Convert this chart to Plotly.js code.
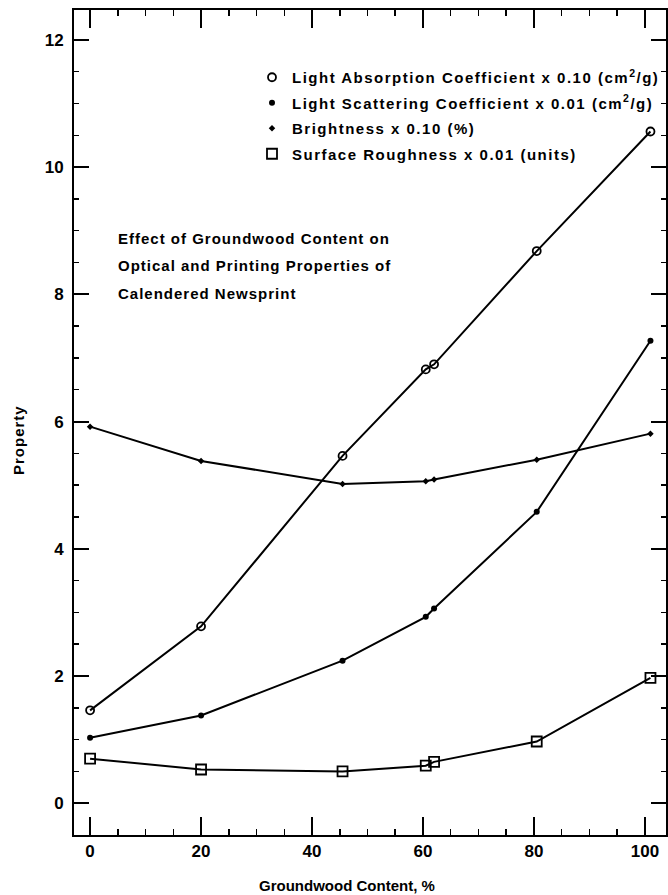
<!DOCTYPE html>
<html>
<head>
<meta charset="utf-8">
<script src="https://cdn.plot.ly/plotly-3.0.1.min.js"></script>
<style>
html,body{margin:0;padding:0;background:#fff;}
#chart{width:668px;height:895px;}
.legendtext{letter-spacing:1.5px;}
#chart .annotation.note .annotation-text{letter-spacing:1px;}
#chart .annotation.ytitle .annotation-text{letter-spacing:1px;}
</style>
</head>
<body>
<div id="chart"></div>
<script>
// Data
const absX = [0, 20, 45.5, 60.5, 62, 80.5, 101];
const absY = [1.46, 2.78, 5.46, 6.82, 6.9, 8.68, 10.56];
const scatX = [0, 20, 45.5, 60.5, 62, 80.5, 101];
const scatY = [1.03, 1.38, 2.24, 2.93, 3.06, 4.58, 7.27];
const brightX = [0, 20, 45.5, 60.5, 62, 80.5, 101];
const brightY = [5.92, 5.38, 5.02, 5.06, 5.09, 5.40, 5.81];
const roughX = [0, 20, 45.5, 60.5, 62, 80.5, 101];
const roughY = [0.70, 0.53, 0.50, 0.59, 0.65, 0.97, 1.97];

const names = [
  "Light Absorption Coefficient x 0.10 (cm<sup>2</sup>/g)",
  "Light Scattering Coefficient x 0.01 (cm<sup>2</sup>/g)",
  "Brightness x 0.10 (%)",
  "Surface Roughness x 0.01 (units)"
];
const noteLines = [
  "Effect of Groundwood Content on",
  "Optical and Printing Properties of",
  "Calendered Newsprint"
];
const xTitle = "Groundwood Content, %";
const yTitle = "Property";
const xTicks = [0, 20, 40, 60, 80, 100];
const yTicks = [0, 2, 4, 6, 8, 10, 12];

const FONT = "Liberation Sans, Arial, Helvetica, sans-serif";
const lineStyle = {color: "#000", width: 2};
const markers = [
  {symbol: "circle-open", size: 8, color: "#000", line: {width: 1.8, color: "#000"}},
  {symbol: "circle", size: 6, color: "#000"},
  {symbol: "diamond", size: 5, color: "#000"},
  {symbol: "square-open", size: 10, color: "#000", line: {width: 1.8, color: "#000"}}
];
const seriesX = [absX, scatX, brightX, roughX];
const seriesY = [absY, scatY, brightY, roughY];

const traces = [];
for (let i = 0; i < 4; i++) {
  traces.push({
    x: seriesX[i], y: seriesY[i], mode: "lines+markers", type: "scatter",
    line: lineStyle, marker: markers[i], showlegend: false, cliponaxis: false
  });
}
for (let i = 0; i < 4; i++) {
  traces.push({
    x: [null], y: [null], mode: "markers", type: "scatter", name: names[i],
    marker: markers[i], showlegend: true, legendgroup: "g" + i
  });
}

const annotations = [];
const noteTop = 238; // px centre of first line
for (let i = 0; i < noteLines.length; i++) {
  annotations.push({
    xref: "paper", yref: "paper", x: (116 - 74) / 592, y: (835 - (noteTop + i * 27.5)) / 825,
    xanchor: "left", yanchor: "middle", showarrow: false, name: "note", align: "left",
    text: noteLines[i], font: {family: FONT, size: 15, color: "#000", weight: "bold"}
  });
}
annotations.push({
  xref: "paper", yref: "paper", x: (347 - 74) / 592, y: (835 - 885) / 825,
  xanchor: "center", yanchor: "middle", showarrow: false,
  text: xTitle, font: {family: FONT, size: 15, color: "#000", weight: "bold"}
});
annotations.push({
  xref: "paper", yref: "paper", x: (18 - 74) / 592, y: (835 - 440) / 825,
  xanchor: "center", yanchor: "middle", showarrow: false, textangle: -90, name: "ytitle",
  text: yTitle, font: {family: FONT, size: 15, color: "#000", weight: "bold"}
});

const layout = {
  width: 668, height: 895,
  margin: {l: 74, r: 2, t: 10, b: 60},
  paper_bgcolor: "#fff", plot_bgcolor: "#fff",
  font: {family: FONT, color: "#000", size: 14, weight: "bold"},
  showlegend: true,
  legend: {
    x: (252 - 74) / 592, y: (835 - 61) / 825, xanchor: "left", yanchor: "top",
    font: {family: FONT, size: 15, color: "#000", weight: "bold"},
    bgcolor: "rgba(0,0,0,0)", borderwidth: 0,
    traceorder: "grouped", tracegroupgap: 3, itemwidth: 30
  },
  xaxis: {
    range: [-2.9, 103.8], showgrid: false, zeroline: false,
    tickmode: "array", tickvals: xTicks, ticktext: xTicks.map(String),
    ticks: "inside", ticklen: 18, tickwidth: 2, tickcolor: "#000",
    minor: {dtick: 5, tick0: 0, ticks: "inside", ticklen: 6, tickwidth: 1.5, tickcolor: "#000", showgrid: false},
    showline: true, linewidth: 2, linecolor: "#000", mirror: "ticks",
    tickfont: {family: FONT, size: 17, color: "#000", weight: "bold"}
  },
  yaxis: {
    range: [-0.5, 12.47], showgrid: false, zeroline: false,
    tickmode: "array", tickvals: yTicks, ticktext: yTicks.map(String),
    ticks: "inside", ticklen: 15, tickwidth: 2, tickcolor: "#000",
    minor: {dtick: 0.5, tick0: 0, ticks: "inside", ticklen: 5, tickwidth: 1.5, tickcolor: "#000", showgrid: false},
    showline: true, linewidth: 2, linecolor: "#000", mirror: "ticks",
    ticklabelstandoff: 5,
    tickfont: {family: FONT, size: 17, color: "#000", weight: "bold"}
  },
  annotations: annotations
};

Plotly.newPlot("chart", traces, layout, {displayModeBar: false, staticPlot: true}).then(function () {
  // tag annotation groups so letter-spacing CSS can target them
  const groups = document.querySelectorAll("#chart .annotation");
  groups.forEach(function (g, i) {
    const a = annotations[i];
    if (a && a.name) g.classList.add(a.name);
  });
});
</script>
</body>
</html>
